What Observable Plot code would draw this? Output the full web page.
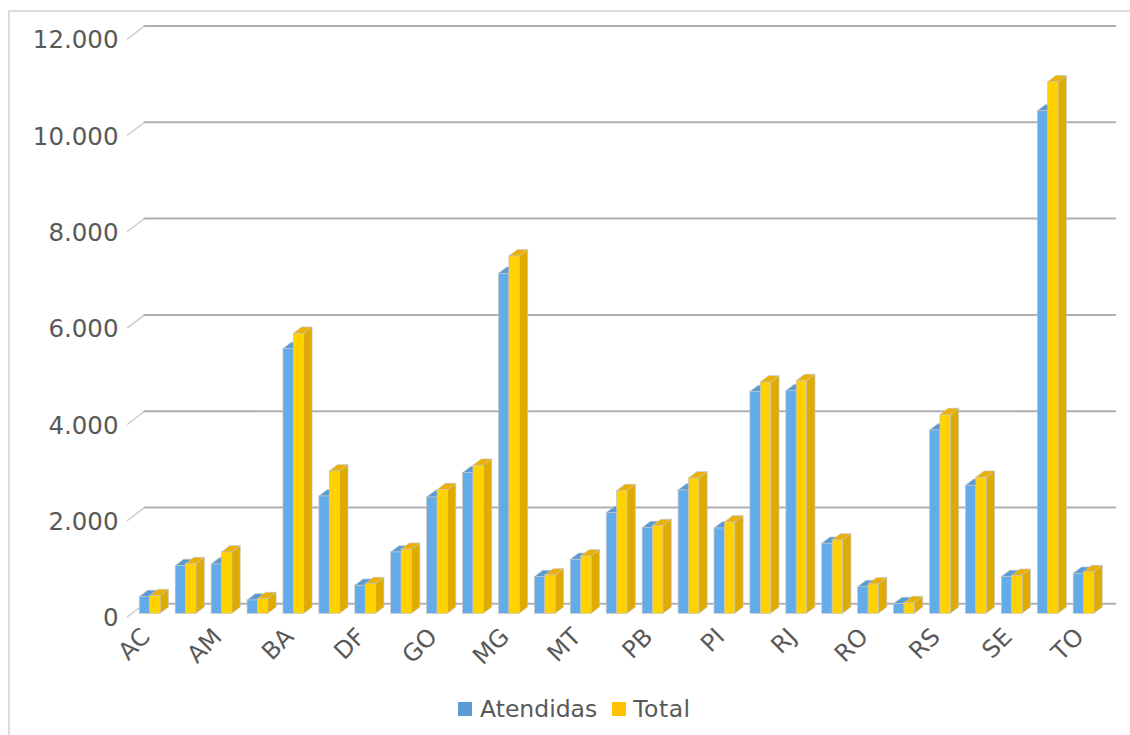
<!DOCTYPE html>
<html><head><meta charset="utf-8">
<script src="https://cdn.jsdelivr.net/npm/d3@7"></script>
<script src="https://cdn.jsdelivr.net/npm/@observablehq/plot@0.6"></script>
<style>
html,body{margin:0;padding:0;background:#fff;overflow:hidden}
#wrap{position:relative;width:1130px;height:735px;font-family:"DejaVu Sans",sans-serif;color:#595959}
#frame{position:absolute;left:8px;top:10px;width:1140px;height:740px;border-left:2px solid #dcdcdc;border-top:2px solid #dcdcdc}
#chart{position:absolute;left:0;top:0}
#legend{position:absolute;left:458px;top:693px;height:32px;display:flex;align-items:center;font-size:23.5px;line-height:32px}
#legend i{display:inline-block;width:14px;height:14px;margin-right:8px}
#legend span{margin-right:15px}
#legend span:last-child{letter-spacing:0.5px;margin-left:-1px}
</style></head>
<body><div id="wrap"><div id="frame"></div><div id="chart"></div>
<div id="legend"><i style="background:#5b9bd5"></i><span>Atendidas</span><i style="background:#ffc000"></i><span>Total</span></div></div>
<script>
const categories = ["AC","AL","AM","AP","BA","CE","DF","ES","GO","MA","MG","MS","MT","PA","PB","PE","PI","PR","RJ","RN","RO","RR","RS","SC","SE","SP","TO"];
const atendidas = [346,990,1025,277,5497,2437,582,1274,2416,2921,7061,761,1121,2091,1779,2561,1772,4604,4624,1454,554,201,3807,2658,762,10438,831];
const total = [367,1031,1274,305,5815,2956,616,1329,2568,3074,7421,796,1191,2548,1821,2811,1897,4804,4832,1523,609,222,4126,2825,789,11040,865];
const tickValues = [0,2000,4000,6000,8000,10000,12000];
const tickLabels = ["0","2.000","4.000","6.000","8.000","10.000","12.000"];
const categoryLabels = categories.filter((d,i)=>i%2===0);

const barW = 0.2895, depthX = 0.231, depthY = 131;
const wallFront = -0.342, wallBack = 0.131, wallEnd = 27.16, wallFrontY = -62, wallBackY = 208;

const bars = (values, off) => values.map((v,i)=>({id:i, x0:i+off, x1:i+off+barW, v}));
const sideFace = bs => bs.flatMap(b=>[
  {id:b.id,x:b.x1,y1:0,y2:b.v},
  {id:b.id,x:b.x1+depthX,y1:depthY,y2:b.v+depthY}]);
const topFace = bs => bs.flatMap(b=>[
  {id:b.id,x:b.x0,y1:b.v,y2:b.v},
  {id:b.id,x:b.x0+depthX,y1:b.v,y2:b.v+depthY},
  {id:b.id,x:b.x1,y1:b.v,y2:b.v+depthY},
  {id:b.id,x:b.x1+depthX,y1:b.v+depthY,y2:b.v+depthY}]);

const barsA = bars(atendidas,0), barsT = bars(total,barW);
const edge = {stroke:"#c4c4c4",strokeWidth:0.7};
const face = (bs,fTop,fSide,fFront)=>[
  Plot.areaY(topFace(bs),{x:"x",y1:"y1",y2:"y2",z:"id",fill:fTop,...edge,curve:"linear"}),
  Plot.areaY(sideFace(bs),{x:"x",y1:"y1",y2:"y2",z:"id",fill:fSide,...edge,curve:"linear"}),
  Plot.rect(bs,{x1:"x0",x2:"x1",y1:()=>0,y2:"v",fill:fFront,...edge})
];

const diag = tickValues.flatMap(t=>[{t,x:wallFront,y:t+wallFrontY},{t,x:wallBack,y:t+wallBackY}]);
const grid = tickValues.flatMap(t=>[{t,x:wallBack,y:t+wallBackY},{t,x:wallEnd,y:t+wallBackY}]);

const plot = Plot.plot({
  width:1130, height:693, margin:0,
  style:{background:"transparent",fontFamily:'"DejaVu Sans",sans-serif',overflow:"visible"},
  x:{domain:[0,26],range:[139.3,1073.2],axis:null},
  y:{domain:[0,12000],range:[613.3,35.5],axis:null},
  marks:[
    Plot.line(diag,{x:"x",y:"y",z:"t",stroke:"#c8c8c8",strokeWidth:1.3}),
    Plot.line(grid,{x:"x",y:"y",z:"t",stroke:"#b0b0b0",strokeWidth:2}),
    ...face(barsA,"#5a9bd5","#4f8fc9","#64abea"),
    ...face(barsT,"#ebb000","#dfab00","#ffd200"),
    Plot.text(tickValues,{x:()=>wallFront-0.25,y:d=>d,text:(d,i)=>tickLabels[i],textAnchor:"end",fontSize:24.5,fill:"#595959",dy:4.5}),
    Plot.text(categoryLabels,{x:(d,i)=>i*2+0.17,y:()=>0,text:d=>d,textAnchor:"end",rotate:-45,fontSize:24,fill:"#595959",dy:19})
  ]
});
document.getElementById("chart").append(plot);
</script></body></html>
